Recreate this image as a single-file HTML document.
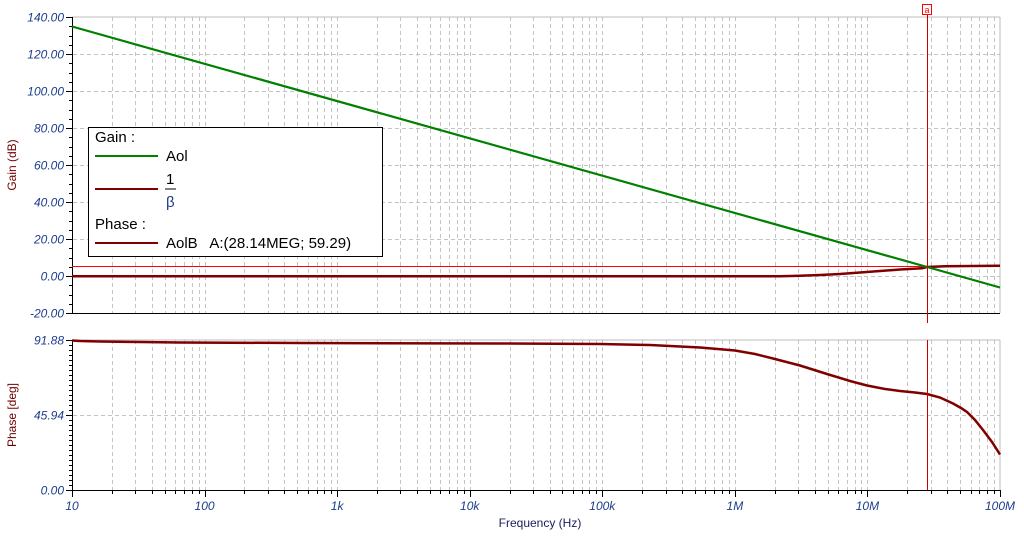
<!DOCTYPE html>
<html><head><meta charset="utf-8"><style>
html,body{margin:0;padding:0;background:#fff;width:1024px;height:542px;overflow:hidden}
svg{display:block;font-family:"Liberation Sans",sans-serif}
.tl{font-size:12px;font-style:italic;fill:#1c3c8c}
</style></head><body>
<svg id="s" width="1024" height="542" viewBox="0 0 1024 542" xmlns="http://www.w3.org/2000/svg">
<g id="grid" stroke="#c4c4c4" stroke-width="1" stroke-dasharray="4,3" fill="none"></g>
<g id="ticks" stroke="#000" stroke-width="1"></g>
<line x1="72" y1="17" x2="1000" y2="17" stroke="#bdbdbd"/>
<line x1="1000" y1="17" x2="1000" y2="313" stroke="#bdbdbd"/>
<line x1="72" y1="340" x2="1000" y2="340" stroke="#bdbdbd"/>
<line x1="1000" y1="340" x2="1000" y2="490" stroke="#bdbdbd"/>
<line x1="72.5" y1="17" x2="72.5" y2="313" stroke="#000"/>
<line x1="72" y1="313.5" x2="1000" y2="313.5" stroke="#000"/>
<line x1="72.5" y1="340" x2="72.5" y2="490" stroke="#000"/>
<line x1="72" y1="490.5" x2="1000" y2="490.5" stroke="#000"/>
<g id="labels" class="tl"></g>
<text x="16" y="165" font-size="12" fill="#6b0000" text-anchor="middle" transform="rotate(-90 16 165)">Gain (dB)</text>
<text x="16" y="415" font-size="12" fill="#6b0000" text-anchor="middle" transform="rotate(-90 16 415)">Phase [deg]</text>
<text x="540" y="527" font-size="12" fill="#1c1c5c" text-anchor="middle">Frequency (Hz)</text>
<line x1="72" y1="266.5" x2="1000" y2="266.5" stroke="#ff0000" stroke-width="1"/>
<polyline fill="none" stroke="#800000" stroke-width="2.5" points="72,276.3 780,276.3 800,275.8 820,275 840,274 860,272.5 880,271 900,269.5 922,268.3 927,267 945,266.3 1000,265.8"/>
<line x1="72" y1="26.5" x2="1000" y2="287.5" stroke="#008000" stroke-width="2.2"/>
<polyline fill="none" stroke="#800000" stroke-width="2.5" points="72,340.5 80,341 100,341.5 140,342 180,342.5 300,343 500,343.5 600,344 650,345 700,347.5 735,350.5 755,354 773,358.5 800,365.5 827,374 850,381 867,385.5 885,389 900,391 915,392.5 927,394 940,397.5 953,403.5 961,408 967,412 975,420 983,430 992,442 1000,454.5"/>
<line x1="927.5" y1="10" x2="927.5" y2="323" stroke="#cc0000" stroke-width="1"/>
<line x1="927.5" y1="340" x2="927.5" y2="490" stroke="#cc0000" stroke-width="1"/>
<rect x="922.5" y="4.5" width="9" height="10" fill="#fff" stroke="#ff0000"/>
<text x="927" y="13" font-size="9" fill="#ff0000" text-anchor="middle">a</text>
<rect x="88.5" y="127.5" width="294" height="129" fill="#fff" stroke="#000"/>
<g font-size="15" fill="#000">
<text x="95" y="142">Gain :</text>
<line x1="95" y1="156" x2="158" y2="156" stroke="#008000" stroke-width="2"/>
<text x="166" y="161">Aol</text>
<line x1="95" y1="189" x2="158" y2="189" stroke="#800000" stroke-width="2"/>
<text x="166" y="184">1</text>
<line x1="165" y1="189" x2="176" y2="189" stroke="#000" stroke-width="1"/>
<text x="166" y="207" fill="#1c3c8c">β</text>
<text x="95" y="229">Phase :</text>
<line x1="95" y1="243" x2="158" y2="243" stroke="#800000" stroke-width="2"/>
<text x="166" y="248" xml:space="preserve">AolB   A:(28.14MEG; 59.29)</text>
</g>
</svg>
<script>
var NS="http://www.w3.org/2000/svg";
function el(p,t,a,txt){var e=document.createElementNS(NS,t);for(var k in a)e.setAttribute(k,a[k]);if(txt!=null)e.textContent=txt;document.getElementById(p).appendChild(e);}
var X0=72,D=132.571;
for(var d=0;d<7;d++){for(var m=1;m<=9;m++){var x=Math.round(X0+D*(d+Math.log10(m)))+0.5;
 if(!(d==0&&m==1)){el("grid","line",{x1:x,y1:17,x2:x,y2:313});el("grid","line",{x1:x,y1:340,x2:x,y2:490});}
 el("ticks","line",{x1:x,y1:490,x2:x,y2:m==1?497:494});}}
el("ticks","line",{x1:1000.5,y1:490,x2:1000.5,y2:497});
var xl=["10","100","1k","10k","100k","1M","10M","100M"];
for(var i=0;i<8;i++)el("labels","text",{x:X0+D*i,y:510,"text-anchor":"middle"},xl[i]);
for(var v=-20;v<=140;v+=20){var y=276-v*1.85;var yy=Math.round(y)+0.5;
 if(v>-20&&v<140)el("grid","line",{x1:73,y1:yy,x2:1000,y2:yy});
 el("ticks","line",{x1:66,y1:yy,x2:72,y2:yy});
 el("labels","text",{x:64,y:y+4.5,"text-anchor":"end"},v.toFixed(2));}
for(var v=-20;v<=140;v+=5){var yy=Math.round(276-v*1.85)+0.5;el("ticks","line",{x1:69,y1:yy,x2:72,y2:yy});}
el("grid","line",{x1:73,y1:415.5,x2:1000,y2:415.5});
for(var k=0;k<=30;k++){var yy=Math.round(490-k*5)+0.5;el("ticks","line",{x1:(k%15==0)?66:69,y1:yy,x2:72,y2:yy});}
[["91.88",340],["45.94",415],["0.00",490]].forEach(function(a){el("labels","text",{x:64,y:a[1]+4.5,"text-anchor":"end"},a[0]);});
</script>
</body></html>
